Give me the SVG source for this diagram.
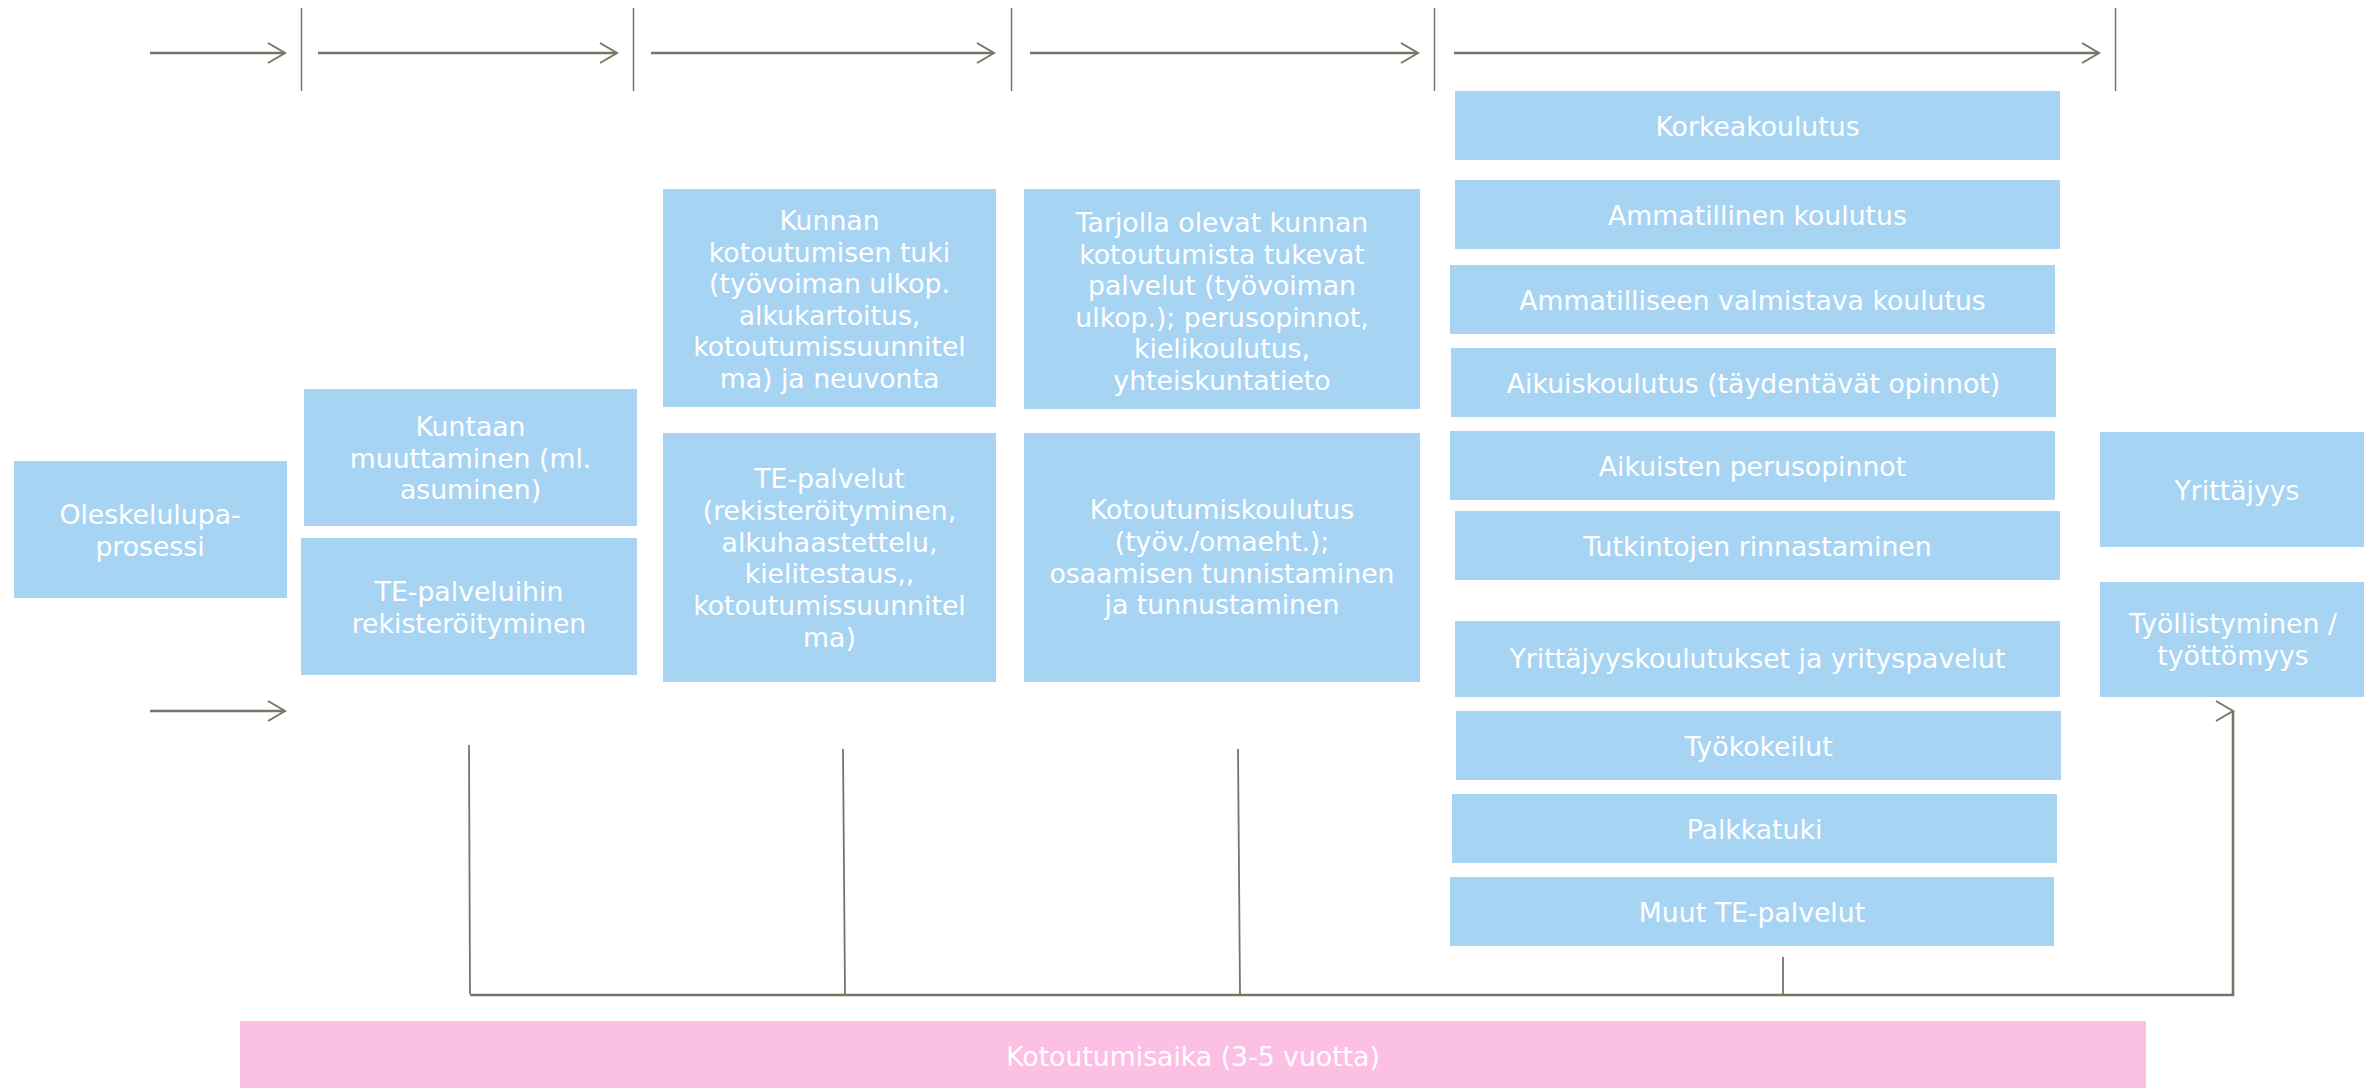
<svg xmlns="http://www.w3.org/2000/svg" width="2364" height="1088" viewBox="0 0 2364 1088">
<style>
.box{fill:#a8d4f4}
.pink{fill:#fcc0e5}
text{font-family:"DejaVu Sans",Verdana,sans-serif;font-size:26.7px;fill:#ffffff;text-anchor:middle}
.ln{stroke:#777666;fill:none}
</style>
<defs>
<marker id="chev" markerUnits="userSpaceOnUse" viewBox="0 0 20 22" refX="18" refY="11" markerWidth="20" markerHeight="22" orient="0">
<path d="M1,1 L18,11 L1,21" fill="none" stroke="#777666" stroke-width="2"/>
</marker>
</defs>
<rect width="2364" height="1088" fill="#ffffff"/>
<g id="connectors">
<line class="ln" x1="150" y1="53" x2="285" y2="53" stroke-width="2.5" marker-end="url(#chev)"/>
<line class="ln" x1="318" y1="53" x2="617" y2="53" stroke-width="2.5" marker-end="url(#chev)"/>
<line class="ln" x1="651" y1="53" x2="994" y2="53" stroke-width="2.5" marker-end="url(#chev)"/>
<line class="ln" x1="1030" y1="53" x2="1418" y2="53" stroke-width="2.5" marker-end="url(#chev)"/>
<line class="ln" x1="1454" y1="53" x2="2099" y2="53" stroke-width="2.5" marker-end="url(#chev)"/>
<line class="ln" x1="301.5" y1="8" x2="301.5" y2="91" stroke-width="1.5"/>
<line class="ln" x1="633.5" y1="8" x2="633.5" y2="91" stroke-width="1.5"/>
<line class="ln" x1="1011.5" y1="8" x2="1011.5" y2="91" stroke-width="1.5"/>
<line class="ln" x1="1434.5" y1="8" x2="1434.5" y2="91" stroke-width="1.5"/>
<line class="ln" x1="2115.5" y1="8" x2="2115.5" y2="91" stroke-width="1.5"/>
<line class="ln" x1="150" y1="711" x2="285" y2="711" stroke-width="2.5" marker-end="url(#chev)"/>
<line class="ln" x1="469" y1="745" x2="470" y2="994" stroke-width="1.8"/>
<line class="ln" x1="843" y1="749" x2="845" y2="994" stroke-width="1.8"/>
<line class="ln" x1="1238" y1="749" x2="1240" y2="994" stroke-width="1.8"/>
<line class="ln" x1="1783" y1="957" x2="1783" y2="994" stroke-width="1.8"/>
<path class="ln" d="M470,995 H2233 V711" stroke-width="2.6" marker-end="url(#chev)"/>
</g>
<g id="n-oleskelulupa"><rect class="box" x="14" y="461" width="273" height="137"/><text x="150" y="524">Oleskelulupa-</text><text x="150" y="556">prosessi</text></g>
<g id="n-kuntaan"><rect class="box" x="304" y="389" width="333" height="137"/><text x="470.5" y="436">Kuntaan</text><text x="470.5" y="467.5">muuttaminen (ml.</text><text x="470.5" y="499">asuminen)</text></g>
<g id="n-te-rek"><rect class="box" x="301" y="538" width="336" height="137"/><text x="469" y="601">TE-palveluihin</text><text x="469" y="632.5">rekisteröityminen</text></g>
<g id="n-kunnan"><rect class="box" x="663" y="189" width="333" height="218"/><text x="829.5" y="230">Kunnan</text><text x="829.5" y="261.5">kotoutumisen tuki</text><text x="829.5" y="293">(työvoiman ulkop.</text><text x="829.5" y="324.5">alkukartoitus,</text><text x="829.5" y="356">kotoutumissuunnitel</text><text x="829.5" y="387.5">ma) ja neuvonta</text></g>
<g id="n-tarjolla"><rect class="box" x="1024" y="189" width="396" height="220"/><text x="1222" y="232">Tarjolla olevat kunnan</text><text x="1222" y="263.5">kotoutumista tukevat</text><text x="1222" y="295">palvelut (työvoiman</text><text x="1222" y="326.5">ulkop.); perusopinnot,</text><text x="1222" y="358">kielikoulutus,</text><text x="1222" y="389.5">yhteiskuntatieto</text></g>
<g id="n-te-palvelut"><rect class="box" x="663" y="433" width="333" height="249"/><text x="829.5" y="488.3">TE-palvelut</text><text x="829.5" y="520">(rekisteröityminen,</text><text x="829.5" y="551.7">alkuhaastettelu,</text><text x="829.5" y="583.3">kielitestaus,,</text><text x="829.5" y="615">kotoutumissuunnitel</text><text x="829.5" y="646.7">ma)</text></g>
<g id="n-kotoutumiskoulutus"><rect class="box" x="1024" y="433" width="396" height="249"/><text x="1222" y="519">Kotoutumiskoulutus</text><text x="1222" y="551">(työv./omaeht.);</text><text x="1222" y="582.7">osaamisen tunnistaminen</text><text x="1222" y="614.3">ja tunnustaminen</text></g>
<g id="n-korkea"><rect class="box" x="1455" y="91" width="605" height="69"/><text x="1757.5" y="136">Korkeakoulutus</text></g>
<g id="n-ammatillinen"><rect class="box" x="1455" y="180" width="605" height="69"/><text x="1757.5" y="225">Ammatillinen koulutus</text></g>
<g id="n-valmistava"><rect class="box" x="1450" y="265" width="605" height="69"/><text x="1752.5" y="310">Ammatilliseen valmistava koulutus</text></g>
<g id="n-aikuiskoulutus"><rect class="box" x="1451" y="348" width="605" height="69"/><text x="1753.5" y="393">Aikuiskoulutus (täydentävät opinnot)</text></g>
<g id="n-perusopinnot"><rect class="box" x="1450" y="431" width="605" height="69"/><text x="1752.5" y="476">Aikuisten perusopinnot</text></g>
<g id="n-tutkintojen"><rect class="box" x="1455" y="511" width="605" height="69"/><text x="1757.5" y="556">Tutkintojen rinnastaminen</text></g>
<g id="n-yrittajyyskoulutukset"><rect class="box" x="1455" y="621" width="605" height="76"/><text x="1757.5" y="668">Yrittäjyyskoulutukset ja yrityspavelut</text></g>
<g id="n-tyokokeilut"><rect class="box" x="1456" y="711" width="605" height="69"/><text x="1758.5" y="755.5">Työkokeilut</text></g>
<g id="n-palkkatuki"><rect class="box" x="1452" y="794" width="605" height="69"/><text x="1754.5" y="839">Palkkatuki</text></g>
<g id="n-muut"><rect class="box" x="1450" y="877" width="604" height="69"/><text x="1752" y="922">Muut TE-palvelut</text></g>
<g id="n-yrittajyys"><rect class="box" x="2100" y="432" width="274" height="115"/><text x="2237" y="500">Yrittäjyys</text></g>
<g id="n-tyollistyminen"><rect class="box" x="2100" y="582" width="274" height="115"/><text x="2233" y="633">Työllistyminen /</text><text x="2233" y="665">työttömyys</text></g>
<g id="n-kotoutumisaika"><rect class="pink" x="240" y="1021" width="1906" height="67"/><text x="1193" y="1066">Kotoutumisaika (3-5 vuotta)</text></g>
</svg>
